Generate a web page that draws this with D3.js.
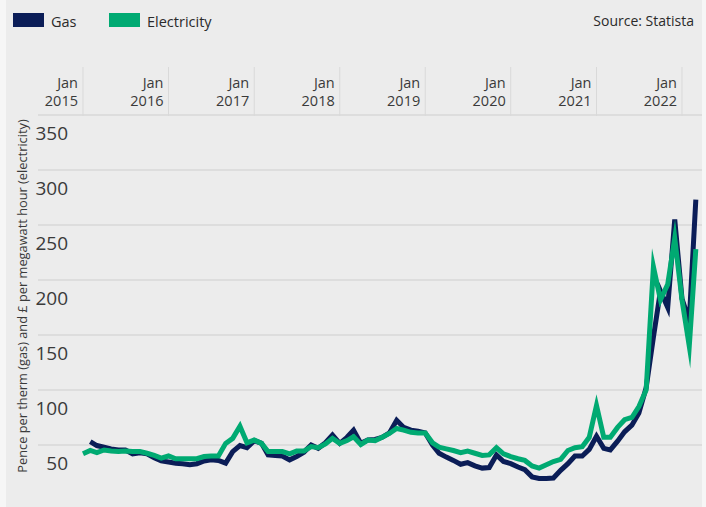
<!DOCTYPE html>
<html>
<head>
<meta charset="utf-8">
<script src="https://cdn.jsdelivr.net/npm/d3@7"></script>
<style>
  html, body { margin: 0; padding: 0; background: #f6f6f6; }
  svg { display: block; font-family: "Open Sans", "Noto Sans", sans-serif; }
</style>
</head>
<body>
<svg id="chart" width="706" height="507"></svg>
<script>
// Monthly wholesale prices, January 2015 to March 2022
const firstMonth = new Date(2015, 0, 1);

// Electricity, £ per megawatt hour
const electricity = [
  42, 45, 43, 45.5, 44.5, 44, 44.5, 44, 44, 42.5, 40.5, 38,          // 2015
  40, 37.5, 37.5, 37.5, 37.5, 39.5, 40, 40, 51.5, 56, 67, 52,        // 2016
  54.5, 51.5, 44, 44, 44, 42, 44.5, 44.5, 48.5, 47.5, 51, 56,        // 2017
  51.5, 54, 57.5, 50.5, 54.5, 54, 57, 60.5, 65, 63.5, 61.5, 61,      // 2018
  61, 52, 48, 46.5, 45, 43, 44.5, 42.5, 40.5, 41, 47.5, 42,          // 2019
  39.5, 37.5, 36, 31, 29, 32, 35, 37, 45, 47.5, 48.5, 57,            // 2020
  86, 57, 57, 66, 73, 75, 85, 100, 212, 182, 196, 238,               // 2021
  182, 140, 228                                                      // 2022
];

// Gas, pence per therm (series begins February 2015)
const gas = [
  null, 53, 49.5, 48, 46.5, 45.5, 45.5, 42, 43, 42, 38.5, 35.5,      // 2015
  34.5, 33.5, 33, 32, 33, 35.5, 36.5, 36, 33.5, 44, 49.5, 47.5,      // 2016
  54, 51.5, 41, 40.5, 40, 36.5, 39.5, 43.5, 50, 47, 52, 59,          // 2017
  51.5, 57, 63.5, 51.5, 54.5, 55, 57, 61, 72.5, 66, 63.5, 62.5,      // 2018
  61, 50, 42.5, 39, 36, 32.5, 34, 31, 29, 29.5, 41, 35,              // 2019
  33, 30, 27.5, 21, 19.5, 19.5, 20, 27, 33, 40, 40, 46,              // 2020
  58, 47, 45.5, 53.5, 62, 68, 79, 102, 148, 190, 175, 255,           // 2021
  183, 163, 273                                                      // 2022
];

const yearLabels = ["2015", "2016", "2017", "2018", "2019", "2020", "2021", "2022"];
const yTicks = [50, 100, 150, 200, 250, 300, 350];

const seriesNames = ["Gas", "Electricity"];
const colors = { Gas: "#0b1d57", Electricity: "#00aa72" };

const svg = d3.select("#chart");

// panel background
svg.append("rect")
  .attr("x", 6).attr("y", 0)
  .attr("width", 696).attr("height", 507)
  .attr("fill", "#ececec");

const x = d3.scaleTime()
  .domain([new Date(2015, 0, 1), new Date(2022, 0, 1)])
  .range([83, 682]);

const y = d3.scaleLinear()
  .domain([0, 350])
  .range([500, 115]);

const plotLeft = 38, plotRight = 702;

// horizontal grid
svg.append("g").selectAll("line")
  .data(yTicks)
  .join("line")
  .attr("x1", plotLeft).attr("x2", plotRight)
  .attr("y1", d => y(d)).attr("y2", d => y(d))
  .attr("stroke", "#d9d9d9")
  .attr("stroke-width", 1.5);

// y tick labels, sitting just below each grid line
svg.append("g").selectAll("text")
  .data(yTicks)
  .join("text")
  .attr("x", 68)
  .attr("y", d => y(d) + 25)
  .attr("text-anchor", "end")
  .attr("font-size", 19)
  .attr("fill", "#3a3a3a")
  .text(d => d);

// y axis title
svg.append("text")
  .attr("transform", "translate(27,296) rotate(-90)")
  .attr("text-anchor", "middle")
  .attr("font-size", 12.8)
  .attr("fill", "#3a3a3a")
  .text("Pence per therm (gas) and £ per megawatt hour (electricity)");

// year header above the plot
const yearDates = yearLabels.map(l => new Date(+l, 0, 1));
const header = svg.append("g");
header.selectAll("line")
  .data(yearDates)
  .join("line")
  .attr("x1", d => x(d)).attr("x2", d => x(d))
  .attr("y1", 67).attr("y2", 116)
  .attr("stroke", "#d9d9d9")
  .attr("stroke-width", 1);

const headerText = header.selectAll("text")
  .data(yearDates)
  .join("text")
  .attr("text-anchor", "end")
  .attr("font-size", 14.5)
  .attr("fill", "#3a3a3a");
headerText.append("tspan")
  .attr("x", d => x(d) - 5).attr("y", 88)
  .text("Jan");
headerText.append("tspan")
  .attr("x", d => x(d) - 5).attr("y", 106)
  .text(d => d.getFullYear());

// lines
const line = d3.line()
  .defined(d => d.v != null)
  .x(d => x(d.date))
  .y(d => y(d.v));

const toPoints = arr => arr.map((v, i) => ({ date: d3.timeMonth.offset(firstMonth, i), v }));

const series = { Gas: toPoints(gas), Electricity: toPoints(electricity) };

svg.append("g").selectAll("path")
  .data(seriesNames)
  .join("path")
  .attr("d", name => line(series[name]))
  .attr("fill", "none")
  .attr("stroke", name => colors[name])
  .attr("stroke-width", 5)
  .attr("stroke-linejoin", "miter")
  .attr("stroke-miterlimit", 10);

// legend
const legend = svg.append("g");
const legendX = [13, 109];
seriesNames.forEach((name, i) => {
  legend.append("rect")
    .attr("x", legendX[i]).attr("y", 13)
    .attr("width", 31).attr("height", 14)
    .attr("fill", colors[name]);
  legend.append("text")
    .attr("x", legendX[i] + 38).attr("y", 27)
    .attr("font-size", 14.5)
    .attr("fill", "#2a2a2a")
    .text(name);
});

svg.append("text")
  .attr("x", 694).attr("y", 26)
  .attr("text-anchor", "end")
  .attr("font-size", 14)
  .attr("fill", "#2a2a2a")
  .text("Source: Statista");
</script>
</body>
</html>
